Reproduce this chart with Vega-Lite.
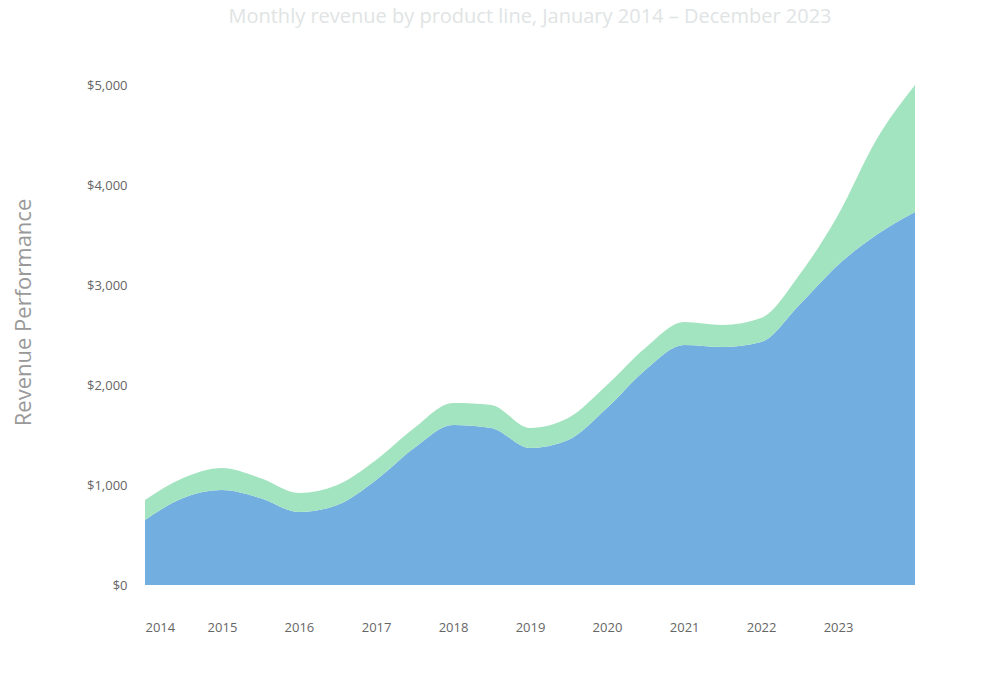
{
  "$schema": "https://vega.github.io/schema/vega-lite/v6.json",
  "autosize": "none",
  "width": 770,
  "height": 500,
  "padding": {"left": 145, "top": 85, "right": 85, "bottom": 99},
  "background": "white",
  "view": {"stroke": null},
  "title": {
    "text": "Monthly revenue by product line, January 2014 – December 2023",
    "fontSize": 20,
    "font": "Open Sans",
    "fontWeight": "normal",
    "color": "#e0e4e4",
    "anchor": "middle",
    "offset": 52
  },
  "data": {
    "values": [
      {"date": "2014-01-01", "series": "Core", "value": 650},
      {"date": "2014-07-01", "series": "Core", "value": 870},
      {"date": "2015-01-01", "series": "Core", "value": 950},
      {"date": "2015-07-01", "series": "Core", "value": 870},
      {"date": "2016-01-01", "series": "Core", "value": 730},
      {"date": "2016-07-01", "series": "Core", "value": 800},
      {"date": "2017-01-01", "series": "Core", "value": 1050},
      {"date": "2017-07-01", "series": "Core", "value": 1370},
      {"date": "2018-01-01", "series": "Core", "value": 1600},
      {"date": "2018-07-01", "series": "Core", "value": 1570},
      {"date": "2019-01-01", "series": "Core", "value": 1370},
      {"date": "2019-07-01", "series": "Core", "value": 1450},
      {"date": "2020-01-01", "series": "Core", "value": 1770},
      {"date": "2020-07-01", "series": "Core", "value": 2150},
      {"date": "2021-01-01", "series": "Core", "value": 2400},
      {"date": "2021-07-01", "series": "Core", "value": 2380},
      {"date": "2022-01-01", "series": "Core", "value": 2430},
      {"date": "2022-07-01", "series": "Core", "value": 2800},
      {"date": "2023-01-01", "series": "Core", "value": 3200},
      {"date": "2023-07-01", "series": "Core", "value": 3500},
      {"date": "2024-01-01", "series": "Core", "value": 3730},
      {"date": "2014-01-01", "series": "New", "value": 200},
      {"date": "2014-07-01", "series": "New", "value": 200},
      {"date": "2015-01-01", "series": "New", "value": 220},
      {"date": "2015-07-01", "series": "New", "value": 200},
      {"date": "2016-01-01", "series": "New", "value": 190},
      {"date": "2016-07-01", "series": "New", "value": 200},
      {"date": "2017-01-01", "series": "New", "value": 200},
      {"date": "2017-07-01", "series": "New", "value": 200},
      {"date": "2018-01-01", "series": "New", "value": 220},
      {"date": "2018-07-01", "series": "New", "value": 230},
      {"date": "2019-01-01", "series": "New", "value": 200},
      {"date": "2019-07-01", "series": "New", "value": 220},
      {"date": "2020-01-01", "series": "New", "value": 230},
      {"date": "2020-07-01", "series": "New", "value": 220},
      {"date": "2021-01-01", "series": "New", "value": 230},
      {"date": "2021-07-01", "series": "New", "value": 220},
      {"date": "2022-01-01", "series": "New", "value": 240},
      {"date": "2022-07-01", "series": "New", "value": 300},
      {"date": "2023-01-01", "series": "New", "value": 500},
      {"date": "2023-07-01", "series": "New", "value": 950},
      {"date": "2024-01-01", "series": "New", "value": 1270}
    ]
  },
  "mark": {"type": "area", "interpolate": "monotone"},
  "encoding": {
    "x": {
      "field": "date",
      "type": "temporal",
      "title": null,
      "scale": {"domain": ["2014-01-01", "2024-01-01"]},
      "axis": {
        "format": "%Y",
        "values": ["2014-01-01", "2015-01-01", "2016-01-01", "2017-01-01", "2018-01-01", "2019-01-01", "2020-01-01", "2021-01-01", "2022-01-01", "2023-01-01"],
        "grid": false,
        "domain": false,
        "ticks": false,
        "labelPadding": 36,
        "labelFontSize": 13,
        "labelFont": "Open Sans",
        "labelColor": "#666",
        "labelAngle": 0
      }
    },
    "y": {
      "field": "value",
      "type": "quantitative",
      "stack": "zero",
      "title": "Revenue Performance",
      "scale": {"domain": [0, 5000], "nice": false},
      "axis": {
        "values": [0, 1000, 2000, 3000, 4000, 5000],
        "format": "$,.0f",
        "grid": false,
        "domain": false,
        "ticks": false,
        "labelPadding": 18,
        "labelFontSize": 13,
        "labelFont": "Open Sans",
        "labelColor": "#666",
        "titleFont": "Open Sans",
        "titleFontSize": 22,
        "titleFontWeight": "normal",
        "titleColor": "#999",
        "titleX": -110,
        "titleY": 227
      }
    },
    "color": {
      "field": "series",
      "type": "nominal",
      "scale": {"domain": ["Core", "New"], "range": ["#72aee0", "#a3e4c0"]},
      "legend": null
    },
    "order": {"field": "series", "sort": "ascending"}
  }
}
